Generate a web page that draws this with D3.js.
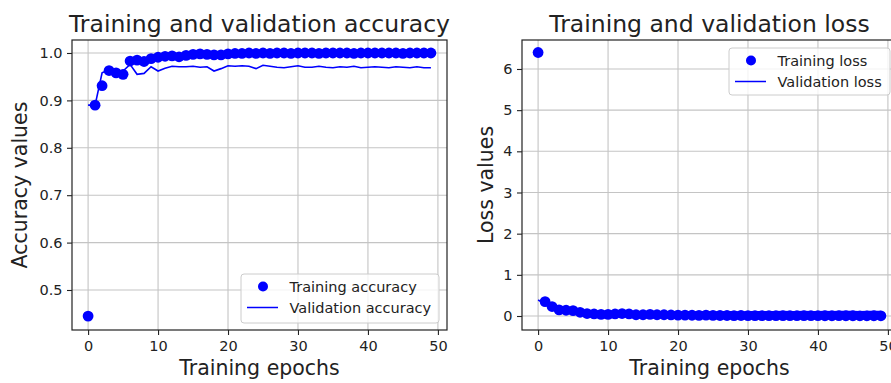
<!DOCTYPE html>
<html>
<head>
<meta charset="utf-8">
<script src="https://cdn.jsdelivr.net/npm/d3@7"></script>
<style>
  html, body { margin: 0; padding: 0; background: #fff; }
  svg { display: block; font-family: "DejaVu Sans", sans-serif; }
</style>
</head>
<body>
<div id="d3-mount"></div>
<script>
// epochs 0..49
const epochs = d3.range(0, 50);

const trainAcc = [
  0.445, 0.890, 0.931, 0.963, 0.958, 0.955, 0.983, 0.985, 0.982, 0.988,
  0.991, 0.993, 0.994, 0.992, 0.995, 0.997, 0.998, 0.997, 0.996, 0.996,
  0.998, 0.999, 0.999, 1.000, 0.999, 1.000, 0.999, 1.000, 1.000, 0.999,
  1.000, 1.000, 1.000, 0.999, 1.000, 1.000, 1.000, 1.000, 0.999, 1.000,
  1.000, 1.000, 1.000, 1.000, 1.000, 0.999, 1.000, 1.000, 1.000, 1.000,
];
const valAcc = [
  0.890, 0.890, 0.958, 0.965, 0.962, 0.962, 0.976, 0.955, 0.957, 0.971,
  0.962, 0.968, 0.972, 0.971, 0.971, 0.972, 0.970, 0.971, 0.962, 0.967,
  0.973, 0.972, 0.973, 0.972, 0.967, 0.974, 0.972, 0.970, 0.969, 0.971,
  0.973, 0.970, 0.970, 0.972, 0.970, 0.969, 0.971, 0.970, 0.972, 0.969,
  0.970, 0.971, 0.970, 0.969, 0.971, 0.970, 0.969, 0.971, 0.969, 0.969,
];
const trainLoss = [
  6.40, 0.35, 0.23, 0.15, 0.14, 0.13, 0.09, 0.06, 0.05, 0.04,
  0.04, 0.05, 0.06, 0.05, 0.03, 0.03, 0.04, 0.03, 0.03, 0.025,
  0.02, 0.02, 0.018, 0.015, 0.02, 0.015, 0.012, 0.012, 0.01, 0.012,
  0.01, 0.01, 0.009, 0.01, 0.008, 0.008, 0.008, 0.007, 0.008, 0.007,
  0.007, 0.006, 0.006, 0.007, 0.006, 0.006, 0.005, 0.005, 0.006, 0.005,
];
const valLoss = [
  0.39, 0.30, 0.17, 0.13, 0.13, 0.12, 0.09, 0.12, 0.11, 0.09,
  0.10, 0.09, 0.09, 0.09, 0.09, 0.09, 0.10, 0.09, 0.10, 0.09,
  0.09, 0.10, 0.09, 0.10, 0.10, 0.09, 0.10, 0.10, 0.10, 0.09,
  0.10, 0.10, 0.10, 0.10, 0.10, 0.11, 0.10, 0.10, 0.11, 0.10,
  0.10, 0.11, 0.10, 0.11, 0.11, 0.11, 0.10, 0.11, 0.11, 0.11,
];

const xTicks = [0, 10, 20, 30, 40, 50];
const accTicks = [0.5, 0.6, 0.7, 0.8, 0.9, 1.0];
const lossTicks = [0, 1, 2, 3, 4, 5, 6];

const W = 891, H = 383;
const BLUE = "#0000ff";
const INK = "#222";

const svg = d3.select("#d3-mount").append("svg")
  .attr("width", W).attr("height", H);

/**
 * one subplot
 */
function panel(opts) {
  const { left, right, top, bottom } = opts.box;
  const x = d3.scaleLinear().domain([-2.3, 51.3]).range([left, right]);
  const y = d3.scaleLinear().domain(opts.yDomain).range([bottom, top]);
  const g = svg.append("g");

  // grid
  g.append("g").selectAll("line").data(xTicks).enter().append("line")
    .attr("x1", (d) => x(d)).attr("x2", (d) => x(d))
    .attr("y1", top).attr("y2", bottom)
    .attr("stroke", "#c4c4c4").attr("stroke-width", 1.1);
  g.append("g").selectAll("line").data(opts.yTicks).enter().append("line")
    .attr("x1", left).attr("x2", right)
    .attr("y1", (d) => y(d)).attr("y2", (d) => y(d))
    .attr("stroke", "#c4c4c4").attr("stroke-width", 1.1);

  // training dots, then validation line on top
  g.append("g").selectAll("circle").data(epochs).enter().append("circle")
    .attr("cx", (d) => x(d))
    .attr("cy", (d) => y(opts.train[d]))
    .attr("r", 5.4)
    .attr("fill", BLUE);
  g.append("path")
    .datum(epochs)
    .attr("fill", "none")
    .attr("stroke", BLUE)
    .attr("stroke-width", 1.6)
    .attr("d", d3.line().x((d) => x(d)).y((d) => y(opts.val[d])));

  // axes
  const xAxis = g.append("g")
    .attr("transform", `translate(0,${bottom})`)
    .call(d3.axisBottom(x).tickValues(xTicks).tickSize(5).tickPadding(6).tickSizeOuter(0));
  const yAxis = g.append("g")
    .attr("transform", `translate(${left},0)`)
    .call(d3.axisLeft(y).tickValues(opts.yTicks).tickFormat(opts.fmt)
      .tickSize(5).tickPadding(4.5).tickSizeOuter(0));
  [xAxis, yAxis].forEach((a) => {
    a.select(".domain").remove();
    a.selectAll("line").attr("stroke", INK).attr("stroke-width", 1.1);
    a.selectAll("text").attr("fill", INK)
      .style("font-family", "DejaVu Sans").style("font-size", "14.5px");
  });

  // frame
  g.append("rect")
    .attr("x", left).attr("y", top)
    .attr("width", right - left).attr("height", bottom - top)
    .attr("fill", "none").attr("stroke", INK).attr("stroke-width", 1.2);

  // titles
  g.append("text")
    .attr("x", (left + right) / 2).attr("y", 32)
    .attr("text-anchor", "middle")
    .attr("fill", INK).style("font-size", "23.5px")
    .text(opts.title);
  g.append("text")
    .attr("x", (left + right) / 2).attr("y", 375)
    .attr("text-anchor", "middle")
    .attr("fill", INK).style("font-size", "20.5px")
    .text("Training epochs");
  g.append("text")
    .attr("transform", `translate(${opts.yLabelX},${(top + bottom) / 2}) rotate(-90)`)
    .attr("text-anchor", "middle")
    .attr("fill", INK).style("font-size", "20.5px")
    .text(opts.yLabel);

  // legend
  const L = opts.legend;
  g.append("rect")
    .attr("x", L.x).attr("y", L.y).attr("width", L.w).attr("height", L.h)
    .attr("rx", 3)
    .attr("fill", "#fff").attr("fill-opacity", 0.8)
    .attr("stroke", "#cccccc").attr("stroke-width", 1);
  g.append("circle")
    .attr("cx", L.x + 22).attr("cy", L.y + 12.5).attr("r", 5).attr("fill", BLUE);
  g.append("line")
    .attr("x1", L.x + 6).attr("x2", L.x + 37)
    .attr("y1", L.y + 33.5).attr("y2", L.y + 33.5)
    .attr("stroke", BLUE).attr("stroke-width", 1.5);
  g.selectAll(".legtext").data(L.labels).enter().append("text")
    .attr("x", L.x + 48.5)
    .attr("y", (d, i) => L.y + 17.5 + i * 21.3)
    .attr("fill", INK).style("font-size", "14.5px")
    .text((d) => d);
}

panel({
  box: { left: 72, right: 447, top: 40, bottom: 330 },
  yDomain: [0.4156, 1.0274],
  yTicks: accTicks,
  fmt: d3.format(".1f"),
  train: trainAcc,
  val: valAcc,
  title: "Training and validation accuracy",
  yLabel: "Accuracy values",
  yLabelX: 27,
  legend: { x: 241, y: 274, w: 198, h: 49,
    labels: ["Training accuracy", "Validation accuracy"] },
});

panel({
  box: { left: 522, right: 897, top: 40, bottom: 330 },
  yDomain: [-0.34, 6.704],
  yTicks: lossTicks,
  fmt: d3.format("d"),
  train: trainLoss,
  val: valLoss,
  title: "Training and validation loss",
  yLabel: "Loss values",
  yLabelX: 492.5,
  legend: { x: 729, y: 48, w: 161, h: 47,
    labels: ["Training loss", "Validation loss"] },
});
</script>
</body>
</html>
